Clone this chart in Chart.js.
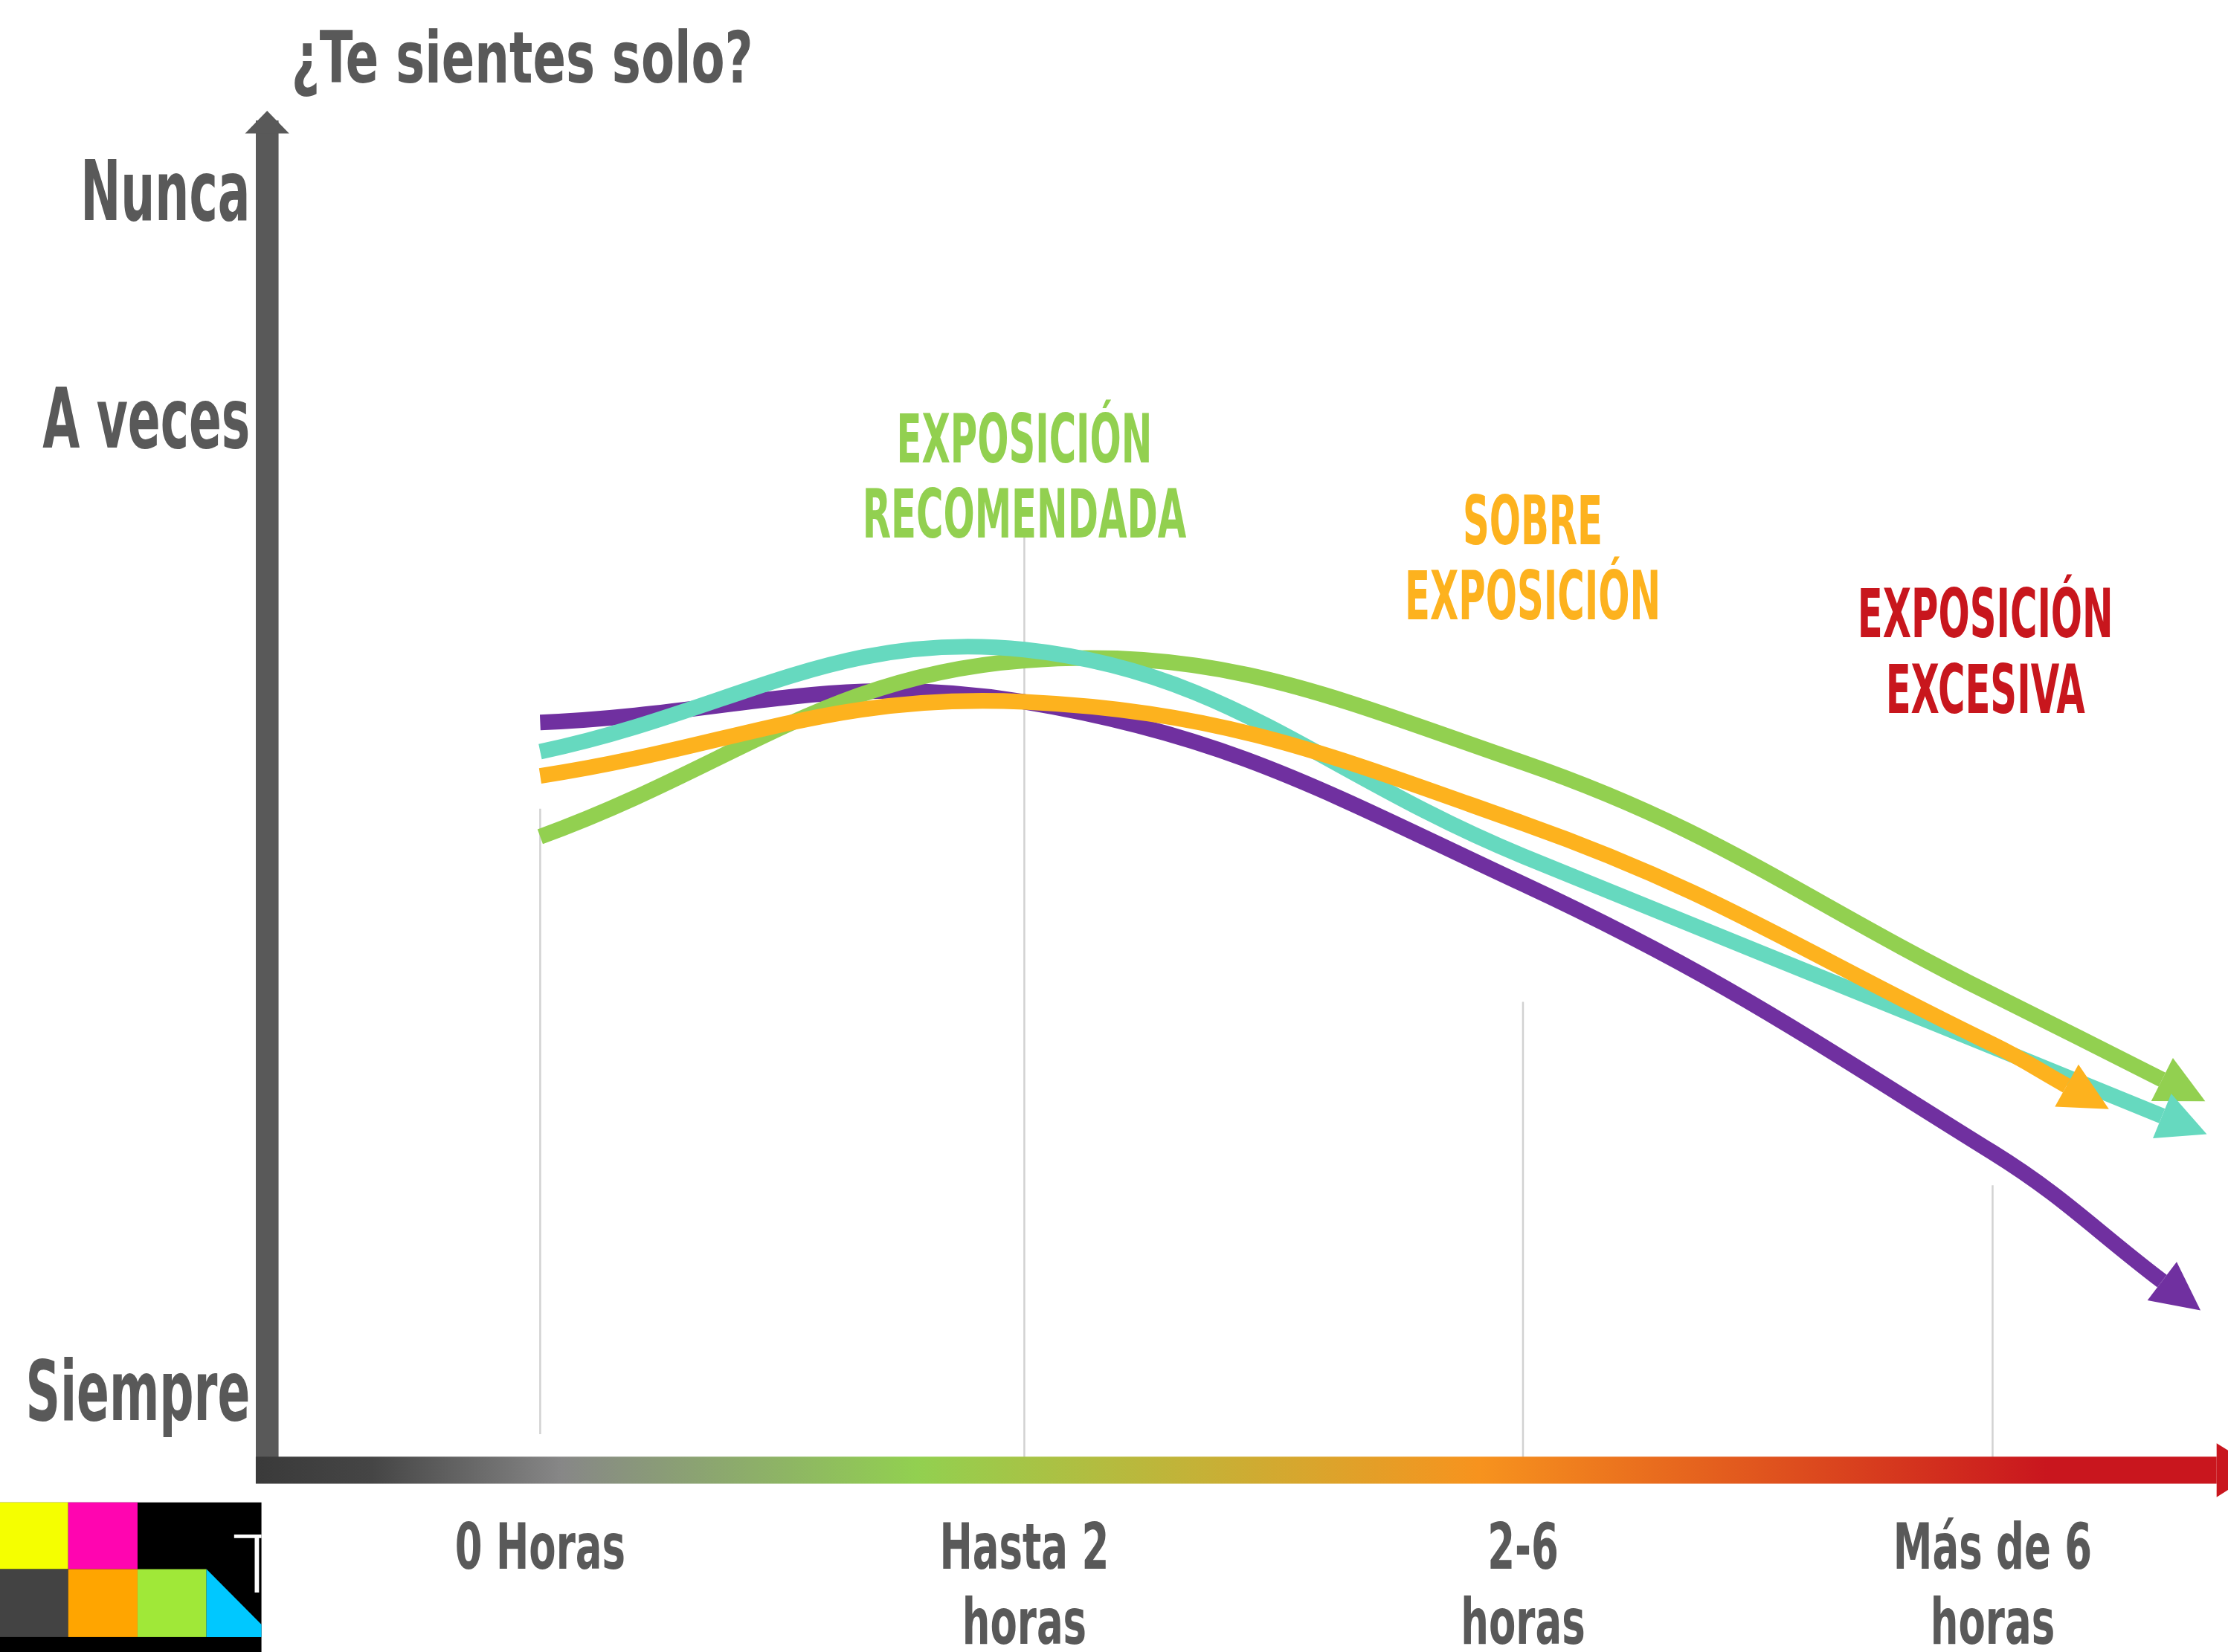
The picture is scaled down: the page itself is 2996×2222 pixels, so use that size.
<!DOCTYPE html>
<html lang="es">
<head>
<meta charset="UTF-8">
<title>¿Te sientes solo?</title>
<script src="https://cdn.jsdelivr.net/npm/chart.js"></script>
<style>
  html, body { margin: 0; padding: 0; background: #fff; overflow: hidden; }
  #wrap { position: relative; width: 2996px; height: 2222px; }
</style>
</head>
<body>
<div id="wrap"><canvas id="myChart"></canvas></div>
<script>
// ---- data ----
const categories = ['0 Horas', ['Hasta 2', 'horas'], ['2-6', 'horas'], ['Más de 6', 'horas']];
const categoryX = [0, 1, 2.03, 3];
const yTickValues = [1.2, 81.3, 100];
const yTickLabels = ['Siempre', 'A veces', 'Nunca'];

// 0 = Siempre, 100 = Nunca; last value is where each arrow ends
const purpleValues = [56.3, 58.0, 43.0, 20.9, 10.3];
const tealValues   = [53.9, 62.3, 45.3, 29.6, 23.9];
const orangeValues = [51.9, 58.0, 48.0, 29.8, 26.4];
const greenValues  = [46.9, 61.4, 53.0, 33.9, 26.9];
const purpleEnd = 3.35, tealEnd = 3.35, orangeEnd = 3.153, greenEnd = 3.35;

const zoneLabels = [['EXPOSICIÓN', 'RECOMENDADA'], ['SOBRE', 'EXPOSICIÓN'], ['EXPOSICIÓN', 'EXCESIVA']];

// ---- look ----
const S = 2996 / 1568;
const FONT = '"Liberation Sans Narrow", "DejaVu Sans Condensed", "Liberation Sans", sans-serif';
const GREY = '#595959';
const zoneColors = ['#92d050', '#fdb21e', '#c8161d'];
const zonePos = [[1.0, 77.7], [2.05, 71.0], [2.985, 63.3]];   // x in categories, y of first baseline
const dropTop = [49.2, 71.6, 33.3, 18.2];
const dropBottom = [-2.3, -5.3, -5.3, -5.3];

function series(values, end) {
    const xs = categoryX.concat([end]);
    return values.map((v, i) => ({x: xs[i], y: v}));
}

function fitText(ctx, text, x, y, sx) {
    ctx.save();
    ctx.translate(x, y);
    ctx.scale(sx, 1);
    ctx.fillText(text, 0, 0);
    ctx.restore();
}

const decor = {
    id: 'decor',
    beforeDatasetsDraw(chart) {
        const {ctx, scales: {x, y}} = chart;
        ctx.save();
        // thin drop lines at each category
        ctx.strokeStyle = '#d2d2d2';
        ctx.lineWidth = 2.5;
        categoryX.forEach((k, i) => {
            const px = x.getPixelForValue(k);
            ctx.beginPath();
            ctx.moveTo(px, y.getPixelForValue(dropTop[i]));
            ctx.lineTo(px, y.getPixelForValue(dropBottom[i]));
            ctx.stroke();
        });
        // zone labels
        ctx.font = 'bold ' + (48 * S) + 'px ' + FONT;
        ctx.textAlign = 'center';
        ctx.textBaseline = 'alphabetic';
        const sx = 180 * S / ctx.measureText('EXPOSICIÓN').width;
        zoneLabels.forEach((lines, i) => {
            ctx.fillStyle = zoneColors[i];
            const cx = x.getPixelForValue(zonePos[i][0]);
            const by = y.getPixelForValue(zonePos[i][1]);
            lines.forEach((t, j) => fitText(ctx, t, cx, by + j * 53 * S, sx));
        });
        ctx.restore();
    },
    afterDatasetDraw(chart, args) {
        const ctx = chart.ctx;
        const pts = args.meta.data;
        const p = pts[pts.length - 1];
        let dx = p.x - p.cp1x, dy = p.y - p.cp1y;
        if (!isFinite(dx) || Math.hypot(dx, dy) < 1) {
            const q = pts[pts.length - 2];
            dx = p.x - q.x; dy = p.y - q.y;
        }
        const len = Math.hypot(dx, dy);
        const ux = dx / len, uy = dy / len;
        const L = 34 * S, W = 17 * S;
        ctx.save();
        ctx.fillStyle = args.meta.dataset.options.borderColor;
        ctx.beginPath();
        ctx.moveTo(p.x + ux * L, p.y + uy * L);
        ctx.lineTo(p.x - uy * W, p.y + ux * W);
        ctx.lineTo(p.x + uy * W, p.y - ux * W);
        ctx.closePath();
        ctx.fill();
        ctx.restore();
    },
    afterDraw(chart) {
        const {ctx, chartArea, scales: {x, y}} = chart;
        ctx.save();
        // y axis arrow head
        const ax = chartArea.left;
        ctx.fillStyle = GREY;
        ctx.beginPath();
        ctx.moveTo(ax, chartArea.top - 15 * S);
        ctx.lineTo(ax - 15.5 * S, chartArea.top + 1 * S);
        ctx.lineTo(ax + 15.5 * S, chartArea.top + 1 * S);
        ctx.closePath();
        ctx.fill();

        // x axis gradient bar
        const x0 = 180 * S, x1 = 1560 * S, yc = chartArea.bottom, h = 19 * S;
        const g = ctx.createLinearGradient(x0, 0, 1568 * S, 0);
        g.addColorStop(0, '#3a3a3a');
        g.addColorStop(0.059, '#454545');
        g.addColorStop(0.155, '#878787');
        g.addColorStop(0.335, '#92d050');
        g.addColorStop(0.62, '#f7931e');
        g.addColorStop(0.908, '#c9161e');
        g.addColorStop(1, '#c9161e');
        ctx.fillStyle = g;
        ctx.fillRect(x0, yc - h / 2, x1 - x0, h);
        ctx.fillStyle = '#c9161e';
        ctx.beginPath();
        ctx.moveTo(x1, yc - 19 * S);
        ctx.lineTo(x1 + 30 * S, yc);
        ctx.lineTo(x1, yc + 19 * S);
        ctx.closePath();
        ctx.fill();

        // tick labels, condensed to the poster's narrow type
        ctx.fillStyle = GREY;
        ctx.textBaseline = 'alphabetic';
        ctx.font = 'bold ' + (59 * S) + 'px ' + FONT;
        ctx.textAlign = 'right';
        const sy = 158 * S / ctx.measureText('Siempre').width;
        y.ticks.forEach((t, i) => {
            fitText(ctx, yTickLabels[i], chartArea.left - 12 * S, y.getPixelForValue(t.value) + 20 * S, sy);
        });
        ctx.font = 'bold ' + (45 * S) + 'px ' + FONT;
        ctx.textAlign = 'center';
        const sxl = 120 * S / ctx.measureText('0 Horas').width;
        x.ticks.forEach((t, i) => {
            const lines = [].concat(categories[i]);
            const px = x.getPixelForValue(t.value);
            lines.forEach((l, j) => fitText(ctx, l, px, chartArea.bottom + (69.5 + j * 53) * S, sxl));
        });

        // title
        ctx.font = 'bold ' + (50 * S) + 'px ' + FONT;
        ctx.textAlign = 'left';
        const title = '¿Te sientes solo?';
        fitText(ctx, title, 205 * S, 58 * S, 325 * S / ctx.measureText(title).width);

        // logo, bottom left
        const r = (c, a, b, w, hh) => { ctx.fillStyle = c; ctx.fillRect(a * S, b * S, w * S, hh * S); };
        r('#000000', 0, 1057.6, 184, 105.4);
        r('#f5ff00', 0, 1057.6, 48, 47);
        r('#ff05b0', 48, 1057.6, 48.8, 47);
        r('#434343', 0, 1104.6, 48, 47.8);
        r('#ffa500', 48, 1104.6, 48.8, 47.8);
        r('#a0e838', 96.8, 1104.6, 48.5, 47.8);
        ctx.fillStyle = '#00c8ff';
        ctx.beginPath();
        ctx.moveTo(145.3 * S, 1104.6 * S);
        ctx.lineTo(184 * S, 1143.5 * S);
        ctx.lineTo(184 * S, 1152.4 * S);
        ctx.lineTo(145.3 * S, 1152.4 * S);
        ctx.closePath();
        ctx.fill();
        ctx.beginPath();
        ctx.rect(0, 1057.6 * S, 184 * S, 105.4 * S);
        ctx.clip();
        ctx.fillStyle = '#ffffff';
        ctx.textAlign = 'left';
        ctx.font = '300 ' + (58 * S) + 'px Lato, "Open Sans", sans-serif';
        ctx.fillText('T', 164 * S, 1121 * S);
        ctx.restore();
    }
};

const common = {
    borderWidth: 11 * S,
    pointRadius: 0,
    pointHoverRadius: 0,
    tension: 0.4,
    fill: false,
    clip: false,
    borderCapStyle: 'butt'
};

const config = {
    type: 'line',
    data: {
        datasets: [
            Object.assign({label: 'Naranja', data: series(orangeValues, orangeEnd), borderColor: '#fdb21e'}, common),
            Object.assign({label: 'Turquesa', data: series(tealValues, tealEnd), borderColor: '#66d9bf'}, common),
            Object.assign({label: 'Verde', data: series(greenValues, greenEnd), borderColor: '#92d050'}, common),
            Object.assign({label: 'Morado', data: series(purpleValues, purpleEnd), borderColor: '#7030a0'}, common)
        ]
    },
    options: {
        responsive: true,
        maintainAspectRatio: false,
        devicePixelRatio: 1,
        animation: false,
        events: [],
        layout: { padding: { top: 93 * S, right: 28 * S, left: 0, bottom: 0 } },
        plugins: {
            legend: { display: false },
            tooltip: { enabled: false }
        },
        scales: {
            x: {
                type: 'linear',
                min: -0.564,
                max: 3.404,
                afterBuildTicks: s => { s.ticks = categoryX.map(v => ({value: v})); },
                afterFit: s => { s.height = 128 * S; },
                grid: { display: false, drawTicks: false },
                border: { display: false },
                ticks: { display: false }
            },
            y: {
                type: 'linear',
                min: -5.263,
                max: 104.91,
                afterBuildTicks: s => { s.ticks = yTickValues.map(v => ({value: v})); },
                afterFit: s => { s.width = 188 * S; },
                grid: { display: false, drawTicks: false },
                border: { display: true, color: GREY, width: 16 * S },
                ticks: { display: false }
            }
        }
    },
    plugins: [decor]
};

new Chart(document.getElementById('myChart'), config);
</script>
</body>
</html>
